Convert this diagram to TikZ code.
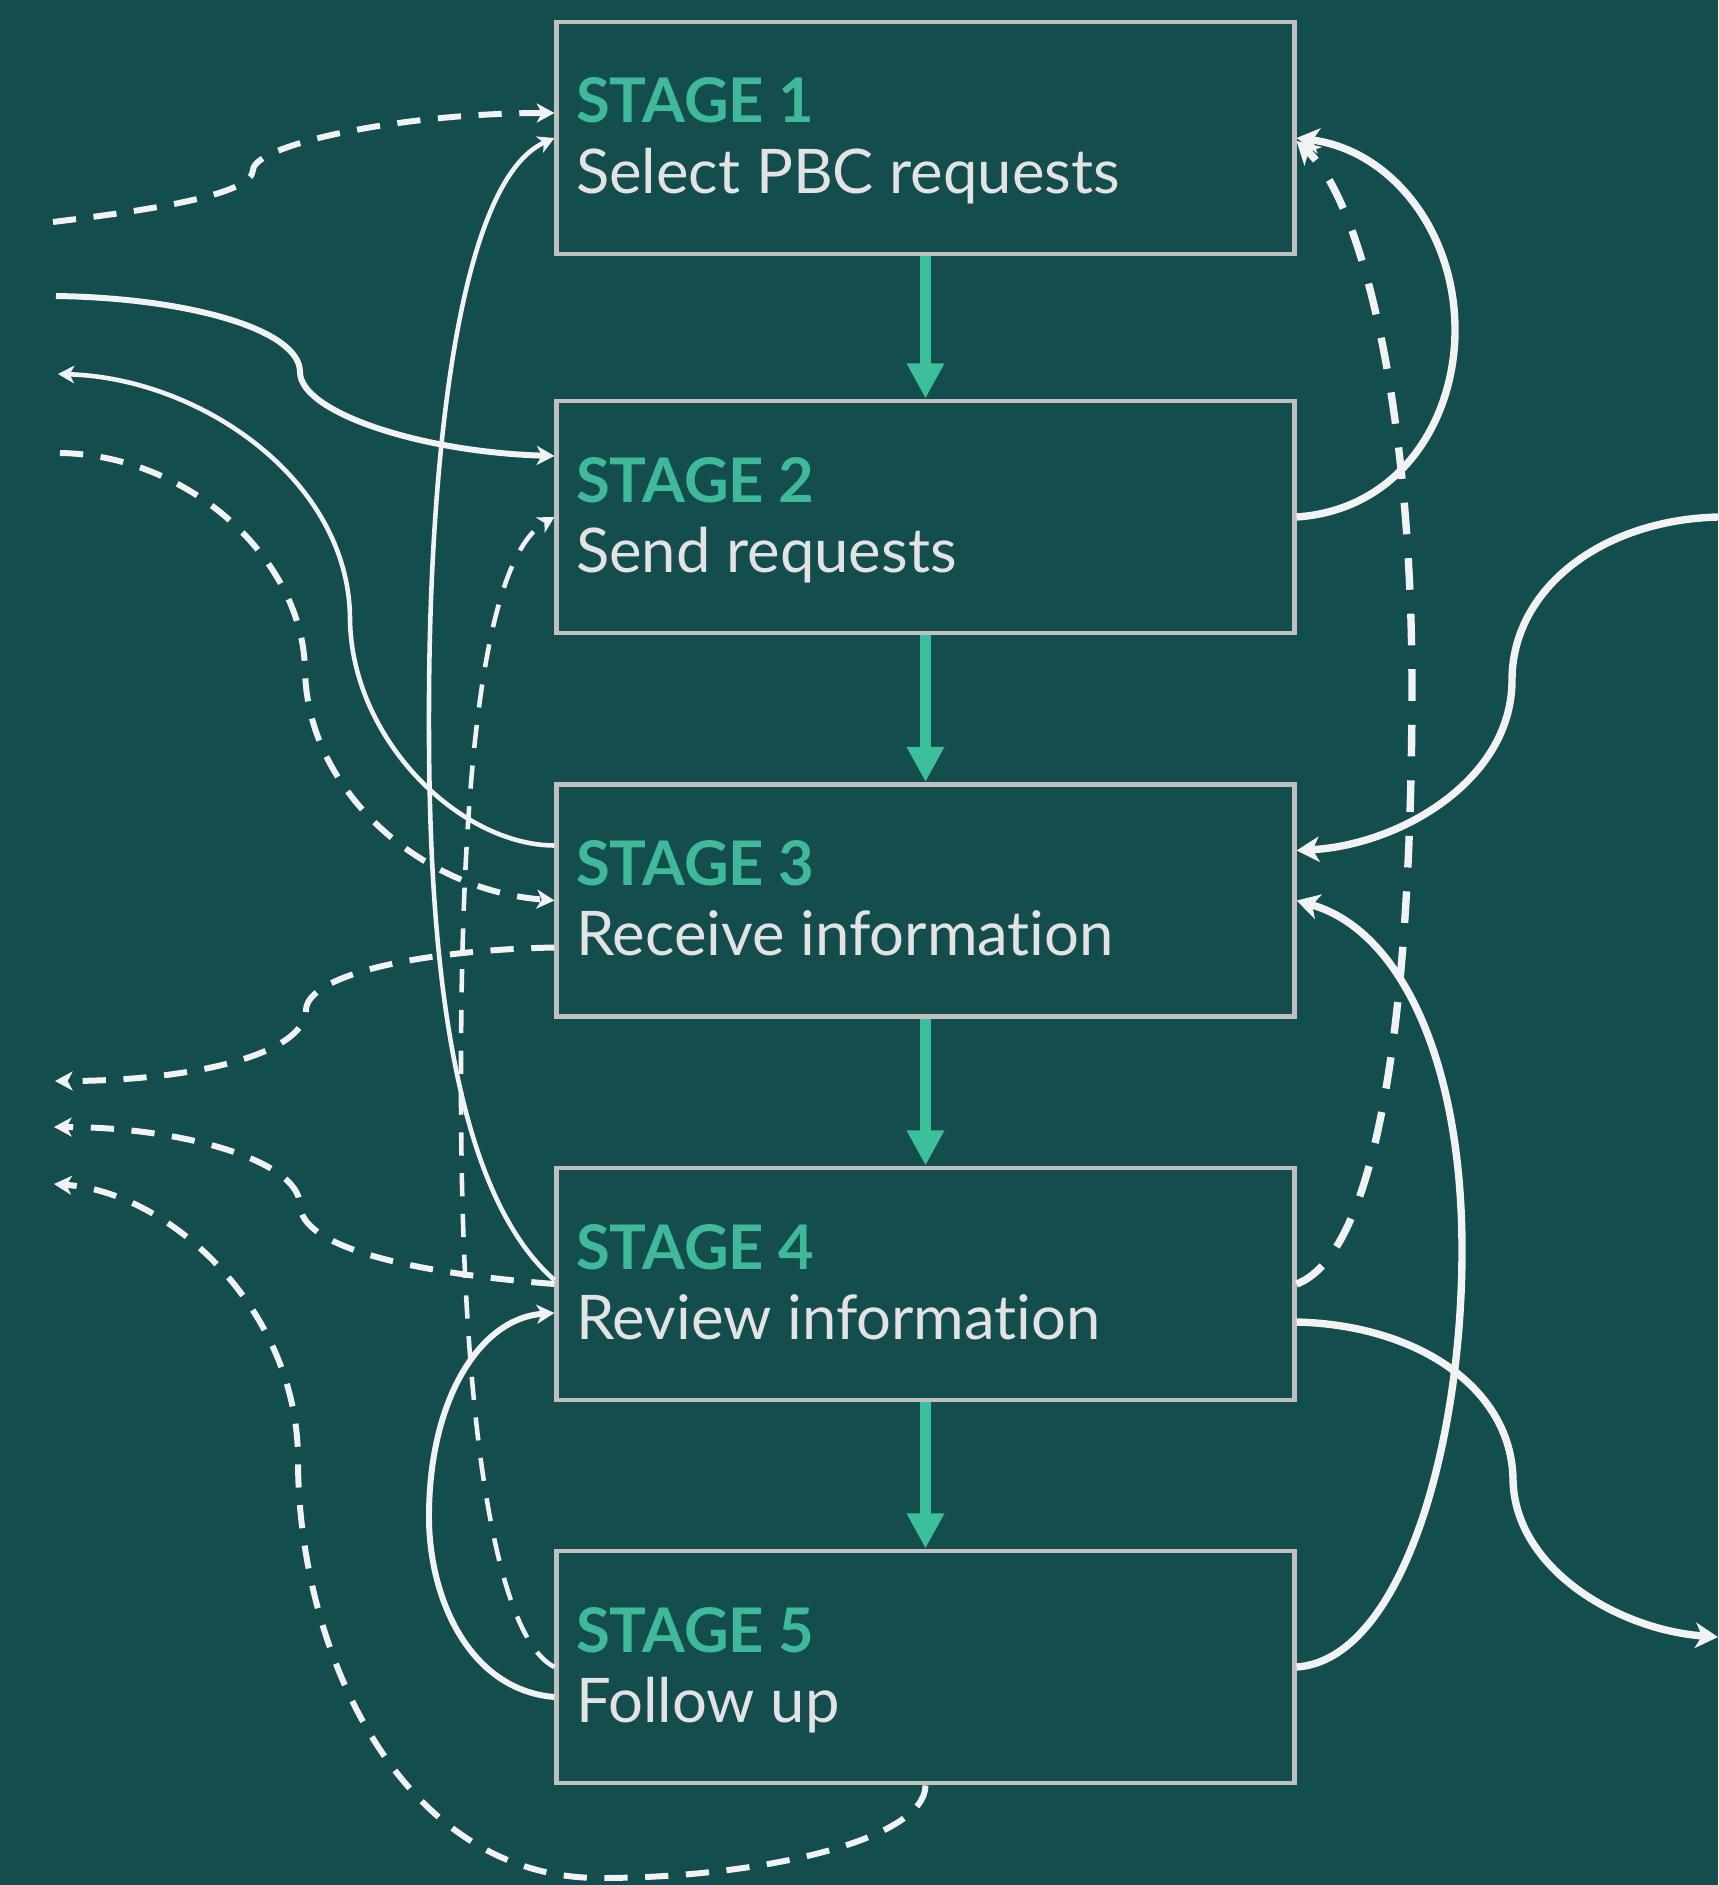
\documentclass[tikz,border=0pt]{standalone}
\usepackage{fontspec}
\setmainfont{Lato}[Ligatures=NoCommon]
\usetikzlibrary{arrows.meta,calc}
\definecolor{bgcol}{HTML}{134D4E}
\definecolor{stageteal}{HTML}{3FB99A}
\definecolor{boxline}{HTML}{C0C0C0}
\definecolor{desctxt}{HTML}{E3E3E3}
\definecolor{wire}{HTML}{F2F2F2}
\definecolor{flowcol}{HTML}{3CC09C}
\begin{document}
\begin{tikzpicture}[x=0.01cm,y=-0.01cm,
  stagebox/.style={draw=boxline, line width=1.35pt, minimum width=7.37cm, minimum height=2.32cm, inner sep=0pt},
  stagetitle/.style={anchor=base west, inner sep=0pt, text=stageteal, font=\fontsize{17.5}{20}\selectfont\bfseries},
  stagedesc/.style={anchor=base west, inner sep=0pt, text=desctxt, font=\fontsize{17.5}{20}\selectfont},
  flow/.style={draw=flowcol, line width=2.9pt, -{Triangle[length=10pt,width=10pt]}},
  thickwire/.style={draw=wire, line width=2.1pt, -{Stealth[length=6.4pt,width=7.2pt,inset=1.8pt]}},
  medwire/.style={draw=wire, line width=1.7pt, -{Stealth[length=5pt,width=5.4pt,inset=1.4pt]}},
  thinwire/.style={draw=wire, line width=1.3pt, -{Stealth[length=4.6pt,width=5pt,inset=1.3pt]}},
  bigdash/.style={dash pattern=on 9pt off 6.8pt},
  dashpat/.style={dash pattern=on 6.6pt off 5pt}
]
\fill[bgcol] (0,0) rectangle (1718,1885);
\useasboundingbox (0,0) rectangle (1718,1885);

% boxes
\node[stagebox] (s1) at (925.5,138) {};
\node[stagebox] (s2) at (925.5,517) {};
\node[stagebox] (s3) at (925.5,900.5) {};
\node[stagebox] (s4) at (925.5,1284) {};
\node[stagebox] (s5) at (925.5,1667) {};

% texts
\node[stagetitle] (t1) at ($(s1.west)+(21,-15)$) {STAGE 1};
\node[stagedesc] (d1) at ($(s1.west)+(21,55)$) {Select PBC requests};
\node[stagetitle] (t2) at ($(s2.west)+(21,-15)$) {STAGE 2};
\node[stagedesc] (d2) at ($(s2.west)+(21,55)$) {Send requests};
\node[stagetitle] (t3) at ($(s3.west)+(21,-15)$) {STAGE 3};
\node[stagedesc] (d3) at ($(s3.west)+(21,55)$) {Receive information};
\node[stagetitle] (t4) at ($(s4.west)+(21,-15)$) {STAGE 4};
\node[stagedesc] (d4) at ($(s4.west)+(21,55)$) {Review information};
\node[stagetitle] (t5) at ($(s5.west)+(21,-15)$) {STAGE 5};
\node[stagedesc] (d5) at ($(s5.west)+(21,55)$) {Follow up};

% main flow
\draw[flow] (s1.south) -- (s2.north);
\draw[flow] (s2.south) -- (s3.north);
\draw[flow] (s3.south) -- (s4.north);
\draw[flow] (s4.south) -- (s5.north);

% free ends
\coordinate (a0) at (53,222);
\coordinate (b0) at (56,296);
\coordinate (c0) at (58,374);
\coordinate (d0) at (60,453);
\coordinate (e0) at (55,1081);
\coordinate (f0) at (54,1127);
\coordinate (g0) at (54,1184);
\coordinate (m0) at (1718,517);
\coordinate (o0) at (1718,1637);

% left side
\draw[medwire, dashpat] (a0) .. controls (150,210) and (252,195) .. (253,170) .. controls (254,145) and (400,113) .. ($(s1.west)+(0,-25)$);
\draw[medwire] (b0) .. controls (190,298) and (300,330) .. (300,372) .. controls (300,412) and (420,452) .. ($(s2.west)+(0,-61)$);
\draw[thinwire] ($(s3.west)+(0,-55)$) .. controls (460,845) and (352,740) .. (350,620) .. controls (350,480) and (200,378) .. (c0);
\draw[medwire, dashpat] (d0) .. controls (190,455) and (303,560) .. (305,670) .. controls (307,790) and (420,890) .. (s3.west);
\draw[medwire, dashpat] ($(s3.west)+(0,47)$) .. controls (420,950) and (307,975) .. (306,1010) .. controls (305,1055) and (190,1081) .. (e0);
\draw[medwire, dashpat] (s4.west) .. controls (400,1272) and (301,1245) .. (300,1205) .. controls (299,1160) and (180,1127) .. (f0);
\draw[medwire, dashpat] (s5.south) .. controls (925,1840) and (760,1878) .. (600,1878) .. controls (400,1878) and (298,1650) .. (298,1460) .. controls (298,1310) and (170,1192) .. (g0);
\draw[thinwire] ($(s4.west)+(0,-4)$) .. controls (440,1180) and (428,900) .. (429,700) .. controls (430,450) and (460,180) .. (s1.west);
\draw[thinwire, dashpat] (s5.west) .. controls (500,1640) and (462,1450) .. (461,1100) .. controls (460,800) and (480,560) .. (s2.west);
\draw[medwire] ($(s5.west)+(0,30)$) .. controls (470,1690) and (430,1600) .. (429,1520) .. controls (428,1400) and (480,1318) .. ($(s4.west)+(0,29)$);

% right side
\draw[thickwire] (s2.east) .. controls (1400,510) and (1455,420) .. (1455,330) .. controls (1455,230) and (1390,150) .. (s1.east);
\draw[thickwire, bigdash] (s4.east) .. controls (1360,1260) and (1410,1100) .. (1412,700) .. controls (1413,400) and (1360,200) .. ($(s1.east)+(0,3)$);
\draw[thickwire] (m0) .. controls (1600,520) and (1512,590) .. (1512,680) .. controls (1512,780) and (1400,845) .. ($(s3.east)+(0,-50)$);
\draw[thickwire] (s5.east) .. controls (1400,1660) and (1462,1450) .. (1462,1250) .. controls (1462,1060) and (1400,930) .. (s3.east);
\draw[thickwire] ($(s4.east)+(0,38)$) .. controls (1420,1325) and (1512,1390) .. (1513,1480) .. controls (1515,1570) and (1620,1630) .. (o0);
\end{tikzpicture}
\end{document}
